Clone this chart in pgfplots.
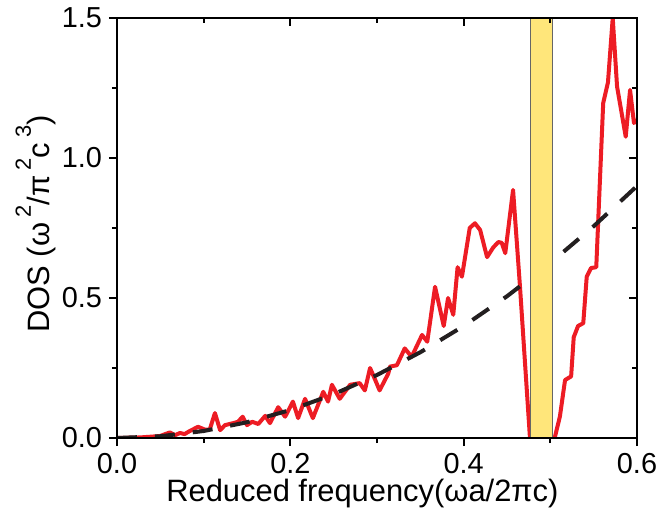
\documentclass[border=0pt]{standalone}
\usepackage{fontspec}
\setmainfont{Liberation Sans}
\usepackage{pgfplots}
\pgfplotsset{compat=1.18}
\definecolor{dosred}{HTML}{ED1C24}
\definecolor{gapyellow}{HTML}{FFE67A}
\definecolor{dashblack}{HTML}{231F20}
\newcommand{\supx}[1]{\raisebox{0.62em}{\fontsize{11}{12}\selectfont #1}}
\begin{document}
\begin{tikzpicture}
\pgfplotsset{
 common/.style={
  scale only axis, width=260bp, height=210bp,
  xmin=0, xmax=0.6, ymin=0, ymax=1.5,
  axis line style={line width=1bp, black},
  major tick length=4bp, minor tick length=2.5bp,
  every tick/.style={line width=0.9bp, black},
  xtick={0,0.2,0.4,0.6}, ytick={0,0.5,1,1.5},
  minor xtick={0.1,0.3,0.5}, minor ytick={0.25,0.75,1.25},
 }}
\begin{axis}[common,
  xtick pos=bottom, ytick pos=left, tick align=outside,
  /pgf/number format/assume math mode=true,
  ticklabel style={font=\fontsize{14.5}{16}\selectfont},
  xticklabel style={/pgf/number format/.cd, fixed, fixed zerofill, precision=1},
  yticklabel style={/pgf/number format/.cd, fixed, fixed zerofill, precision=1},
  xlabel={Reduced frequency(ωa/2πc)},
  xlabel style={font=\fontsize{15.5}{18}\selectfont, at={(axis description cs:0.472,-0.152)}, anchor=base},
  ylabel={DOS (ω\,\supx{2}/π\,\supx{2}c\,\supx{3})},
  ylabel style={font=\fontsize{15.5}{18}\selectfont, at={(axis description cs:-0.156,0.51)}, anchor=center},
]
\addplot[dosred, line width=2bp, line join=round] coordinates {
(0,0) (0.001,0) (0.0265,0.002) (0.0496,0.007) (0.061,0.02) (0.067,0.01) (0.0727,0.018)
(0.078,0.014) (0.084,0.025) (0.0935,0.04) (0.1015,0.03) (0.107,0.03) (0.113,0.089)
(0.119,0.028) (0.1246,0.046) (0.134,0.053) (0.1396,0.058) (0.145,0.076) (0.15,0.046)
(0.156,0.058) (0.163,0.05) (0.171,0.079) (0.1765,0.053) (0.186,0.11) (0.194,0.076)
(0.203,0.13) (0.209,0.071) (0.217,0.14) (0.226,0.071) (0.238,0.165) (0.2435,0.13)
(0.248,0.19) (0.257,0.14) (0.269,0.19) (0.280,0.196) (0.286,0.17) (0.292,0.25)
(0.298,0.207) (0.303,0.17) (0.313,0.23) (0.315,0.255) (0.323,0.26) (0.332,0.32)
(0.340,0.29) (0.352,0.368) (0.358,0.344) (0.367,0.54) (0.377,0.40) (0.382,0.50)
(0.388,0.44) (0.393,0.61) (0.398,0.576) (0.407,0.75) (0.413,0.767) (0.419,0.743)
(0.427,0.646) (0.434,0.68) (0.44,0.70) (0.444,0.697) (0.448,0.66) (0.457,0.886)
(0.465,0.54) (0.4765,0) (0.503,0) (0.505,0) (0.511,0.076) (0.517,0.207) (0.524,0.22)
(0.527,0.36) (0.532,0.40) (0.538,0.41) (0.542,0.576) (0.547,0.607) (0.553,0.61)
(0.561,1.196) (0.5665,1.27) (0.572,1.5) (0.577,1.255) (0.587,1.076) (0.592,1.243)
(0.5965,1.125) (0.6,1.136)
};
\addplot[dashblack, line width=2bp, dash pattern=on 10bp off 9bp] coordinates {
(0,0) (0.05,0.00625) (0.1,0.025) (0.15,0.05625) (0.2,0.1) (0.25,0.15625) (0.3,0.225)
(0.35,0.30625) (0.4,0.4) (0.45,0.50625) (0.5,0.625) (0.55,0.75625) (0.6,0.9)
};
\addplot[fill=gapyellow, draw=gray!80!black, line width=0.5bp] coordinates {
(0.477,0) (0.503,0) (0.503,1.5) (0.477,1.5) (0.477,0)
};
\end{axis}
\begin{axis}[common,
  xtick pos=top, ytick pos=right, tick align=inside,
  xticklabels={}, yticklabels={},
]
\end{axis}
\pgfresetboundingbox
\path[use as bounding box] ([shift={(-58.5bp,-44.5bp)}]current axis.south west) rectangle ([shift={(12bp,9bp)}]current axis.north east);
\end{tikzpicture}
\end{document}
